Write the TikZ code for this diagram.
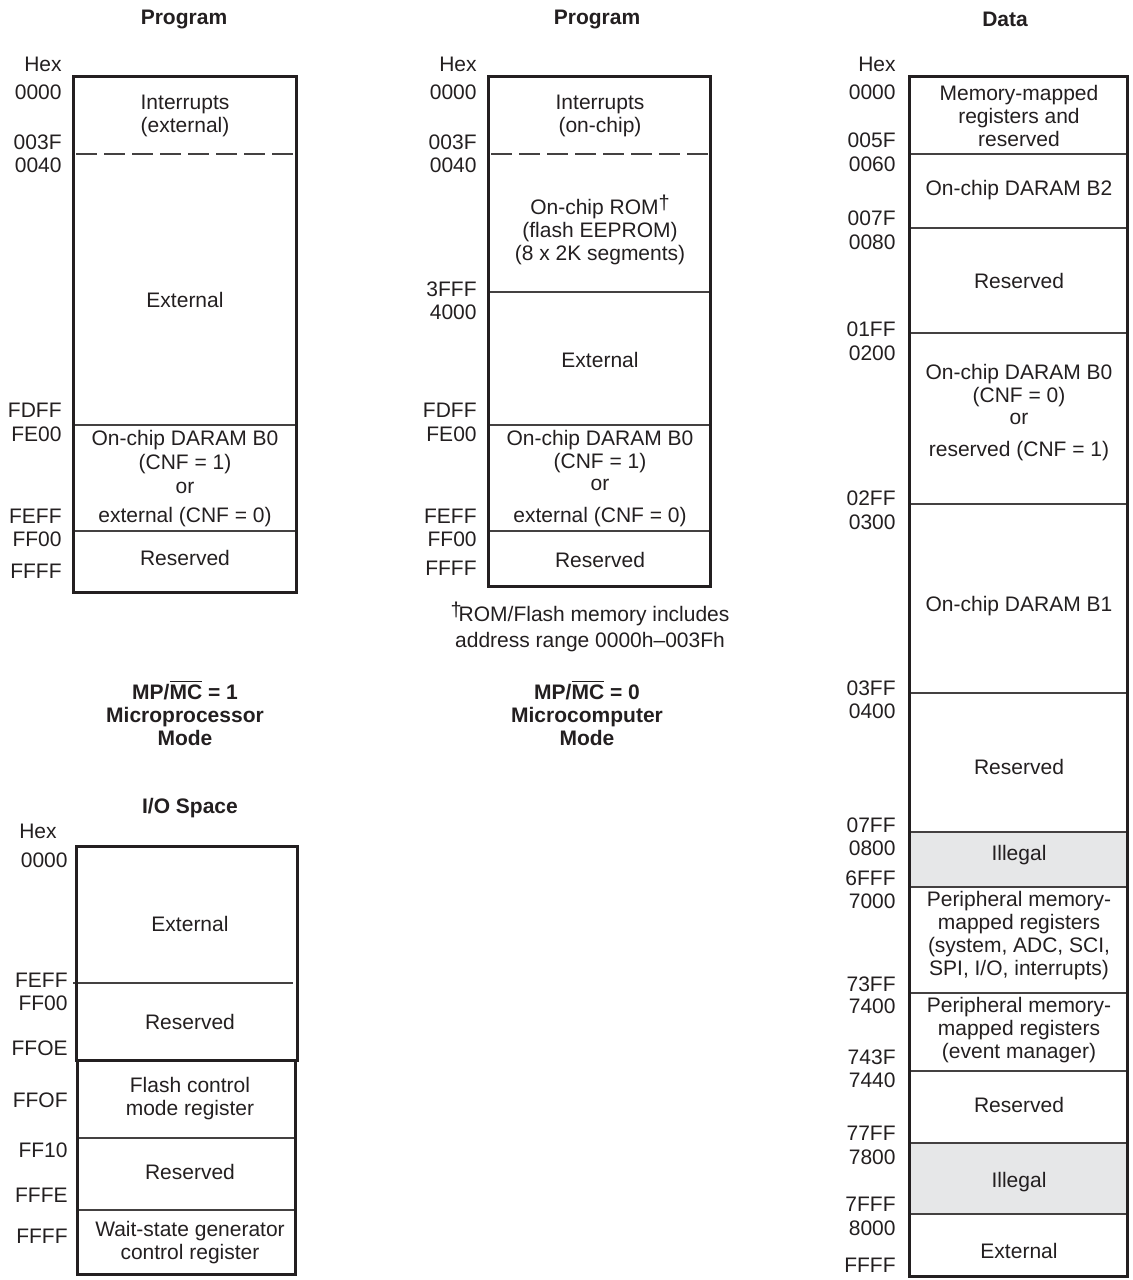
\documentclass[tikz,border=0pt]{standalone}
\usepackage{fontspec}
\setmainfont{Liberation Sans}
\definecolor{ink}{RGB}{35,31,32}
\definecolor{illegal}{RGB}{230,231,232}
\newcommand{\mydag}{\raisebox{2.2pt}{\fontsize{10}{10}\selectfont †}}
\tikzset{
  txt/.style={font=\fontsize{10.5}{11.5}\selectfont, text=ink, inner sep=0pt, align=center},
  addr/.style={txt, anchor=east},
  ttl/.style={txt, font=\fontsize{10.5}{11.5}\selectfont\bfseries},
  outer/.style={draw=ink, line width=1.5pt},
  divider/.style={draw=ink!85, line width=0.7pt},
  dashdiv/.style={divider, dash pattern=on 10.5pt off 3.5pt},
  shade/.style={fill=illegal},
}
\begin{document}
\begin{tikzpicture}[x=0.5pt,y=-0.5pt]
\path[use as bounding box] (0,0) rectangle (1132,1280);

% ---------------- Left: Program (microprocessor mode)
\node[ttl] (t1) at (184,19) {Program};
\draw[dashdiv] (76,154) -- (296,154);
\draw[divider] (73,425) -- (296,425);
\draw[divider] (73,531) -- (296,531);
\draw[outer] (73,76) rectangle (296,592);
\node[txt] (p1a) at (185,115.5) {Interrupts\\(external)};
\node[txt] (p1b) at (185,300) {External};
\node[txt] (p1c) at (185,478.5) {On-chip DARAM B0\\[0.5pt](CNF = 1)\\[0.5pt]or\\[3pt]external (CNF = 0)};
\node[txt] (p1d) at (185,558) {Reserved};
\foreach \t/\y [count=\i] in {Hex/64,0000/92,003F/142,0040/165,FDFF/410,FE00/434,FEFF/516,FF00/539,FFFF/571}
  \node[addr] (la\i) at (62,\y) {\t};
\node[ttl] (m1) at (185,713) {MP/$\overline{\hbox{MC}}$ = 1\\Microprocessor\\Mode};

% ---------------- Middle: Program (microcomputer mode)
\node[ttl] (t2) at (597,19) {Program};
\draw[dashdiv] (491,154) -- (710,154);
\draw[divider] (488,292) -- (710,292);
\draw[divider] (488,425) -- (710,425);
\draw[divider] (488,531) -- (710,531);
\draw[outer] (488,76) rectangle (710,586);
\node[txt] (p2a) at (600,115.5) {Interrupts\\(on-chip)};
\node[txt] (p2b) at (600,230) {On-chip ROM\mydag\\(flash EEPROM)\\(8 x 2K segments)};
\node[txt] (p2c) at (600,360) {External};
\node[txt] (p2d) at (600,478.5) {On-chip DARAM B0\\(CNF = 1)\\[-0.5pt]or\\[4.5pt]external (CNF = 0)};
\node[txt] (p2e) at (600,560) {Reserved};
\foreach \t/\y [count=\i] in {Hex/64,0000/92,003F/142,0040/165,3FFF/289,4000/312,FDFF/410,FE00/434,FEFF/516,FF00/539,FFFF/568}
  \node[addr] (ma\i) at (477,\y) {\t};
\node[txt] (fn) at (590,627) {\mydag\kern-1.5pt ROM/Flash memory includes\\[1.5pt]address range 0000h--003Fh};
\node[ttl] (m2) at (587,713) {MP/$\overline{\hbox{MC}}$ = 0\\Microcomputer\\Mode};

% ---------------- Right: Data
\node[ttl] (t3) at (1005,19) {Data};
\fill[shade] (909,832) rectangle (1127,887);
\fill[shade] (909,1143) rectangle (1127,1214);
\foreach \y in {154,228,333,504,693,832,887,993,1071,1143,1214}
  \draw[divider] (909,\y) -- (1127,\y);
\draw[outer] (909,76) rectangle (1127,1276);
\node[txt] (d1) at (1019,115.5) {Memory-mapped\\registers and\\reserved};
\node[txt] (d2) at (1019,190) {On-chip DARAM B2};
\node[txt] (d3) at (1019,281) {Reserved};
\node[txt] (d4) at (1019,412.5) {On-chip DARAM B0\\(CNF = 0)\\[-0.5pt]or\\[4.5pt]reserved (CNF = 1)};
\node[txt] (d5) at (1019,606) {On-chip DARAM B1};
\node[txt] (d6) at (1019,767) {Reserved};
\node[txt] (d7) at (1019,855) {Illegal};
\node[txt] (d8) at (1019,936) {Peripheral memory-\\mapped registers\\(system, ADC, SCI,\\SPI, I/O, interrupts)};
\node[txt] (d9) at (1019,1030) {Peripheral memory-\\mapped registers\\(event manager)};
\node[txt] (d10) at (1019,1105) {Reserved};
\node[txt] (d11) at (1019,1182) {Illegal};
\node[txt] (d12) at (1019,1251) {External};
\foreach \t/\y [count=\i] in {Hex/64,0000/92,005F/140,0060/164,007F/218,0080/242,01FF/329,0200/353,02FF/498,0300/522,03FF/688,0400/711,07FF/825,0800/848,6FFF/878,7000/901,73FF/984,7400/1006,743F/1057,7440/1080,77FF/1133,7800/1157,7FFF/1204,8000/1228,FFFF/1265}
  \node[addr] (da\i) at (896,\y) {\t};

% ---------------- I/O Space
\node[ttl] (t4) at (190,808) {I/O Space};
\draw[divider] (73,983) -- (293,983);
\draw[outer] (76,846) rectangle (297,1060);
\draw[divider] (77,1138) -- (295,1138);
\draw[divider] (77,1210) -- (295,1210);
\draw[outer] (77,1060) rectangle (295,1274);
\node[txt] (i1) at (190,924) {External};
\node[txt] (i2) at (190,1022) {Reserved};
\node[txt] (i3) at (190,1098.5) {Flash control\\mode register};
\node[txt] (i4) at (190,1172) {Reserved};
\node[txt] (i5) at (190,1242.5) {Wait-state generator\\control register};
\node[addr] (ia0) at (57,831) {Hex};
\foreach \t/\y [count=\i] in {0000/860,FEFF/980,FF00/1003,FFOE/1048,FFOF/1100,FF10/1150,FFFE/1195,FFFF/1236}
  \node[addr] (ia\i) at (68,\y) {\t};
\end{tikzpicture}
\end{document}
